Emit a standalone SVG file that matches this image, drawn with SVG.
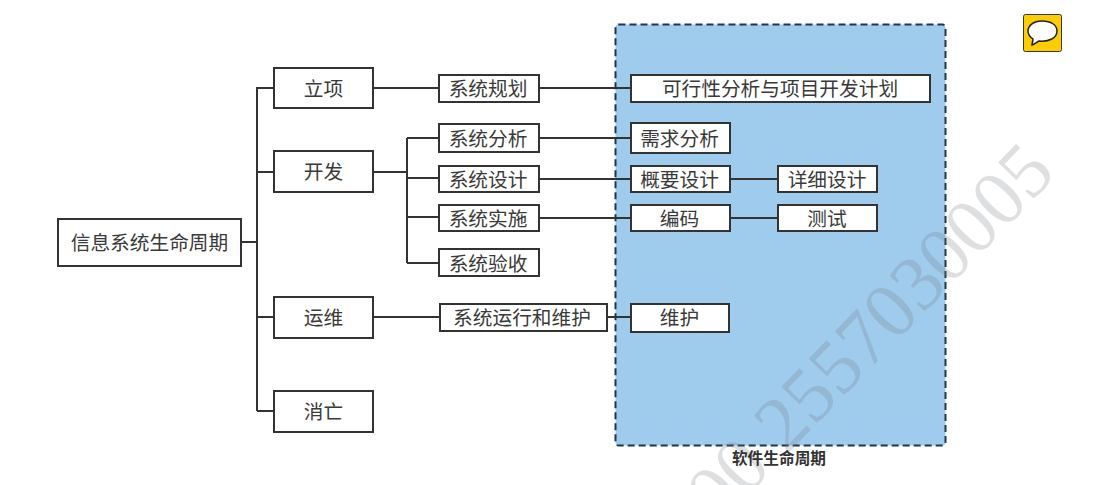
<svg xmlns="http://www.w3.org/2000/svg" width="1103" height="485" viewBox="0 0 1103 485">
<style>
.n{fill:#fff;stroke:#333;stroke-width:2}
.t{font-family:"Noto Sans CJK SC","Liberation Sans",sans-serif;font-size:19.700px;fill:#3a3a3a;text-anchor:middle}
.c{fill:none;stroke:#333;stroke-width:2}
</style>
<rect width="1103" height="485" fill="#fff"/>
<g id="software-lifecycle">
<rect x="615.500" y="24.500" width="330" height="421" rx="3" fill="#9fcbed" stroke="#22354d" stroke-width="2" stroke-dasharray="7 4"/>
</g>
<g id="watermark">
<text transform="translate(719 525) rotate(-46)" font-family="Liberation Serif,serif" font-size="78" fill="#707880" fill-opacity=".24">00 2557030005</text>
</g>
<text x="779" y="464" font-family="Noto Sans CJK SC,sans-serif" font-size="15.700" font-weight="700" fill="#333" text-anchor="middle">软件生命周期</text>
<g id="connectors">
<path class="c" d="M241 242H257M257 87V411M257 88H274M257 172H274M257 317H274M257 411H274"/>
<path class="c" d="M373 88H439M539 88H631M373 172H407M407 138V263M407 138H439M407 178H439M407 217H439M407 263H439M539 138H631M539 179H631M539 218H631M730 179H778M730 218H778M373 317H440M607 317H631"/>
</g>
<g id="root"><rect class="n" x="58" y="219" width="183" height="47"/><text class="t" x="149.500" y="249.500">信息系统生命周期</text></g>
<g id="lixiang"><rect class="n" x="274" y="68" width="99" height="40"/><text class="t" x="323.500" y="95.500">立项</text></g>
<g id="kaifa"><rect class="n" x="274" y="151" width="99" height="41"/><text class="t" x="323.500" y="178.500">开发</text></g>
<g id="yunwei"><rect class="n" x="274" y="297" width="99" height="41"/><text class="t" x="323.500" y="324.500">运维</text></g>
<g id="xiaowang"><rect class="n" x="274" y="391" width="99" height="41"/><text class="t" x="323.500" y="418.500">消亡</text></g>
<g id="guihua"><rect class="n" x="439" y="75" width="100" height="27"/><text class="t" x="488" y="95.500">系统规划</text></g>
<g id="fenxi"><rect class="n" x="439" y="124" width="100" height="28"/><text class="t" x="488" y="145.500">系统分析</text></g>
<g id="sheji"><rect class="n" x="439" y="166" width="100" height="26"/><text class="t" x="488" y="186.500">系统设计</text></g>
<g id="shishi"><rect class="n" x="439" y="205" width="100" height="26"/><text class="t" x="488" y="225.500">系统实施</text></g>
<g id="yanshou"><rect class="n" x="439" y="249" width="100" height="27"/><text class="t" x="488" y="270.500">系统验收</text></g>
<g id="yunxing"><rect class="n" x="440" y="304" width="167" height="27"/><text class="t" x="522" y="324.500">系统运行和维护</text></g>
<g id="kexing"><rect class="n" x="631" y="75" width="299" height="27"/><text class="t" x="780" y="95.500">可行性分析与项目开发计划</text></g>
<g id="xuqiu"><rect class="n" x="631" y="123" width="99" height="30"/><text class="t" x="679.500" y="145.500">需求分析</text></g>
<g id="gaiyao"><rect class="n" x="631" y="166" width="99" height="26"/><text class="t" x="679.500" y="186.500">概要设计</text></g>
<g id="xiangxi"><rect class="n" x="778" y="166" width="99" height="26"/><text class="t" x="827" y="186.500">详细设计</text></g>
<g id="bianma"><rect class="n" x="631" y="205" width="99" height="26"/><text class="t" x="679.500" y="225.500">编码</text></g>
<g id="ceshi"><rect class="n" x="778" y="205" width="99" height="26"/><text class="t" x="827" y="225.500">测试</text></g>
<g id="weihu"><rect class="n" x="631" y="304" width="98" height="28"/><text class="t" x="679.500" y="324.500">维护</text></g>
<g id="comment-icon">
<rect x="1023.500" y="14.500" width="38" height="37" rx="2" fill="#ffcc00" stroke="#333" stroke-width="1"/>
<path d="M1042 21C1033 21 1028 26 1028 31C1028 35 1030 37 1033 39C1033 41 1032 43 1032 45C1035 44 1037 42 1039 41C1049 42 1057 38 1057 31C1057 25 1051 21 1042 21Z" fill="#fff" stroke="#222" stroke-width="1.500"/>
</g>
</svg>
